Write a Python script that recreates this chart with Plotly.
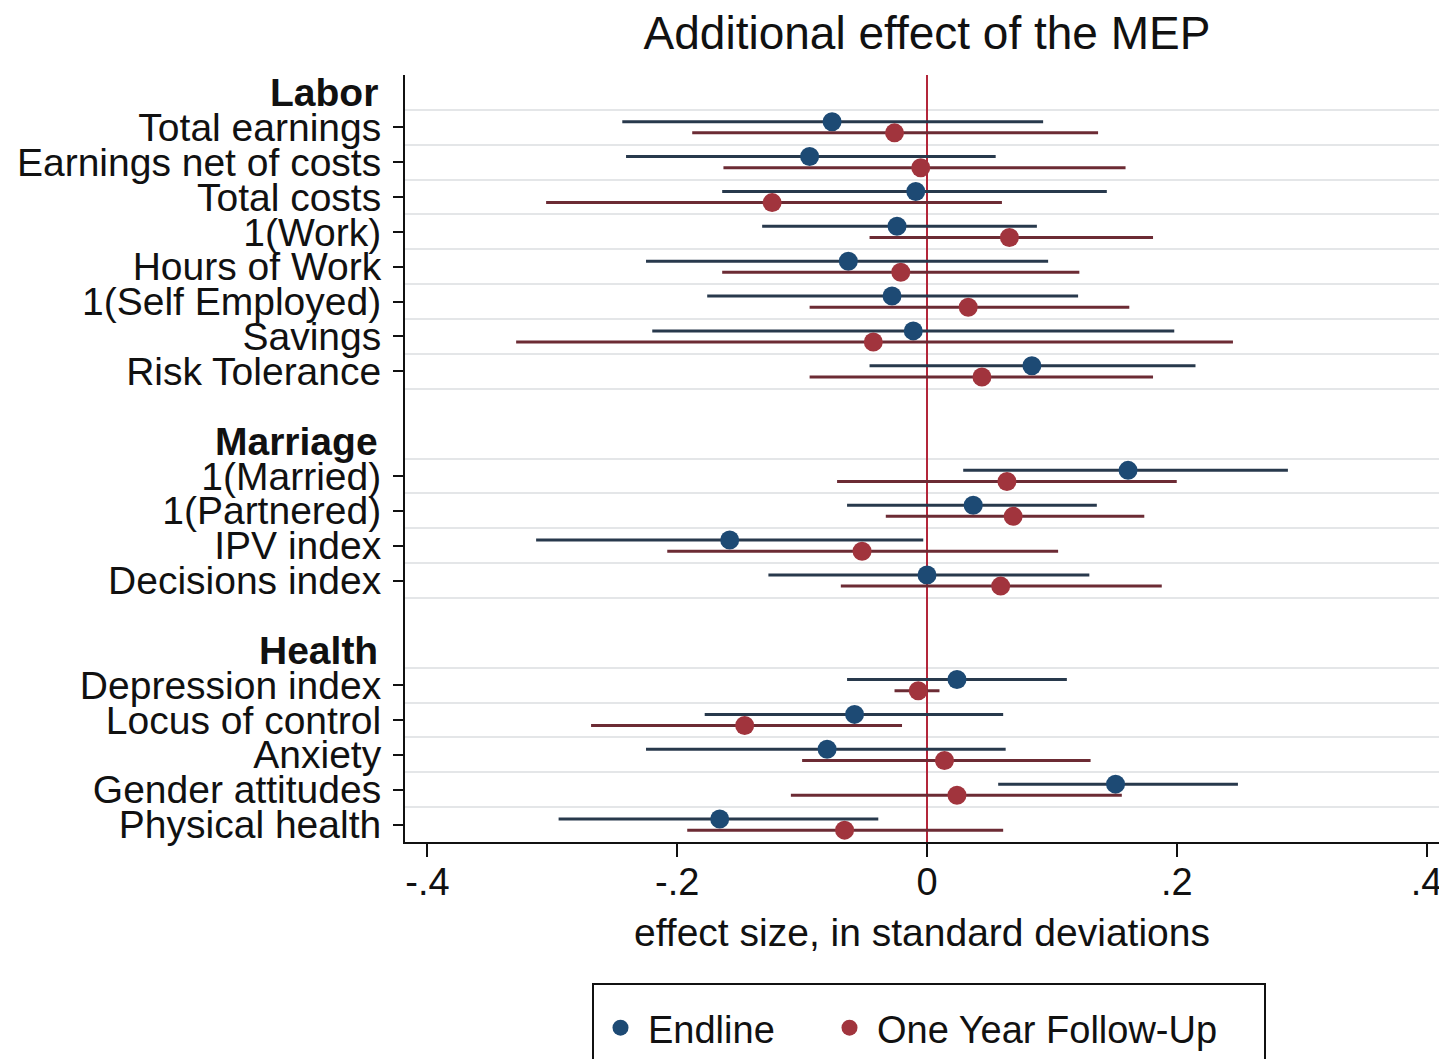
import plotly.graph_objects as go

# ---------------- data ----------------
groups = ["Labor", "Marriage", "Health"]
labels_labor = ["Total earnings", "Earnings net of costs", "Total costs", "1(Work)",
                "Hours of Work", "1(Self Employed)", "Savings", "Risk Tolerance"]
labels_marriage = ["1(Married)", "1(Partnered)", "IPV index", "Decisions index"]
labels_health = ["Depression index", "Locus of control", "Anxiety", "Gender attitudes",
                 "Physical health"]
series_names = ["Endline", "One Year Follow-Up"]

# Endline estimates and 95% CI
end_est = [-0.076, -0.094, -0.009, -0.024, -0.063, -0.028, -0.011, 0.084,
           0.161, 0.037, -0.158, 0.000,
           0.024, -0.058, -0.080, 0.151, -0.166]
end_lo = [-0.244, -0.241, -0.164, -0.132, -0.225, -0.176, -0.220, -0.046,
          0.029, -0.064, -0.313, -0.127,
          -0.064, -0.178, -0.225, 0.057, -0.295]
end_hi = [0.093, 0.055, 0.144, 0.088, 0.097, 0.121, 0.198, 0.215,
          0.289, 0.136, -0.003, 0.130,
          0.112, 0.061, 0.063, 0.249, -0.039]

# One Year Follow-Up estimates and 95% CI
fu_est = [-0.026, -0.005, -0.124, 0.066, -0.021, 0.033, -0.043, 0.044,
          0.064, 0.069, -0.052, 0.059,
          -0.007, -0.146, 0.014, 0.024, -0.066]
fu_lo = [-0.188, -0.163, -0.305, -0.046, -0.164, -0.094, -0.329, -0.094,
         -0.072, -0.033, -0.208, -0.069,
         -0.026, -0.269, -0.100, -0.109, -0.192]
fu_hi = [0.137, 0.159, 0.060, 0.181, 0.122, 0.162, 0.245, 0.181,
         0.200, 0.174, 0.105, 0.188,
         0.010, -0.020, 0.131, 0.156, 0.061]

x_tickvals = [-0.4, -0.2, 0, 0.2, 0.4]
x_ticktext = ["-.4", "-.2", "0", ".2", ".4"]

# ---------------- layout of rows ----------------
sections = [labels_labor, labels_marriage, labels_health]
header_rows = []
item_rows = []
item_labels = []
r = 0
for g, items in zip(groups, sections):
    header_rows.append(r)
    r += 1
    for it in items:
        item_rows.append(r)
        item_labels.append(it)
        r += 1
    r += 1  # blank row between sections
last_row = item_rows[-1]

grid_vals = sorted(set([v - 0.5 for v in item_rows] + [v + 0.5 for v in item_rows]))

OFF = 0.16
FONT = "Liberation Sans, Arial, Helvetica, sans-serif"
BLUE = "#1d4a74"
RED = "#a1343d"
BLUE_CI = "#28394c"
RED_CI = "#6c2b34"

W, H = 1439, 1059
ML, MR, MT, MB = 405, 0, 75, 217
PW = W - ML - MR
PH = H - MT - MB


def px_to_paper_x(px):
    return (px - ML) / PW


def px_to_paper_y(py):
    return (H - MB - py) / PH


NBSP = "\u00a0"

fig = go.Figure()
fig.add_trace(go.Scatter(
    x=end_est, y=[v - OFF for v in item_rows], mode="markers",
    name=series_names[0] + NBSP * 4,
    marker=dict(color=BLUE, size=19),
    error_x=dict(type="data", symmetric=False,
                 array=[h - e for h, e in zip(end_hi, end_est)],
                 arrayminus=[e - l for e, l in zip(end_est, end_lo)],
                 color=BLUE_CI, thickness=3, width=0),
))
fig.add_trace(go.Scatter(
    x=fu_est, y=[v + OFF for v in item_rows], mode="markers",
    name=series_names[1],
    marker=dict(color=RED, size=19),
    error_x=dict(type="data", symmetric=False,
                 array=[h - e for h, e in zip(fu_hi, fu_est)],
                 arrayminus=[e - l for e, l in zip(fu_est, fu_lo)],
                 color=RED_CI, thickness=3, width=0),
))

for g, hr in zip(groups, header_rows):
    fig.add_annotation(x=0, xref="paper", y=hr, yref="y", text="<b>%s</b>" % g,
                       showarrow=False, xanchor="right", yanchor="middle", xshift=-25,
                       font=dict(family=FONT, size=39, color="#111111"))

# legend frame (extends past the bottom edge, as in the original)
fig.add_shape(type="rect", xref="paper", yref="paper",
              x0=px_to_paper_x(593), x1=px_to_paper_x(1265),
              y0=px_to_paper_y(1075), y1=px_to_paper_y(984),
              line=dict(color="#111111", width=2), fillcolor="white", layer="below")

fig.update_layout(
    width=W, height=H,
    margin=dict(l=ML, r=MR, t=MT, b=MB, autoexpand=False),
    paper_bgcolor="white", plot_bgcolor="white",
    font=dict(family=FONT, color="#111111"),
    title=dict(text="Additional effect of the MEP", xref="container", x=927 / W,
               xanchor="center", yref="container", y=1 - 33 / H, yanchor="middle",
               font=dict(family=FONT, size=46, color="#111111")),
    showlegend=True,
    legend=dict(orientation="h", x=px_to_paper_x(593), xanchor="left",
                y=px_to_paper_y(1028), yanchor="middle", yref="paper",
                borderwidth=0, bgcolor="rgba(0,0,0,0)",
                itemwidth=45,
                font=dict(family=FONT, size=38, color="#111111")),
)

fig.update_xaxes(
    range=[-0.418, 0.410], tickmode="array", tickvals=x_tickvals, ticktext=x_ticktext,
    showgrid=False, showline=True, linecolor="#111111", linewidth=2,
    ticks="outside", ticklen=13, tickwidth=2, tickcolor="#111111",
    tickfont=dict(family=FONT, size=38, color="#111111"), ticklabelstandoff=-8,
    ticklabeloverflow="allow",
    zeroline=True, zerolinecolor="#b3263a", zerolinewidth=2,
    title=dict(text="effect size, in standard deviations",
               font=dict(family=FONT, size=39, color="#111111"), standoff=17),
    automargin=False,
)
fig.update_yaxes(
    range=[last_row + 0.5, -0.5], tickmode="array", tickvals=item_rows,
    ticktext=item_labels,
    showgrid=False, showline=True, linecolor="#111111", linewidth=2,
    ticks="outside", ticklen=10, tickwidth=2, tickcolor="#111111",
    tickfont=dict(family=FONT, size=39, color="#111111"), ticklabelstandoff=4,
    zeroline=False, automargin=False,
    minor=dict(tickmode="array", tickvals=grid_vals, showgrid=True,
               gridcolor="#e4e6e8", gridwidth=2, ticks=""),
)

fig.write_html("out.html")
